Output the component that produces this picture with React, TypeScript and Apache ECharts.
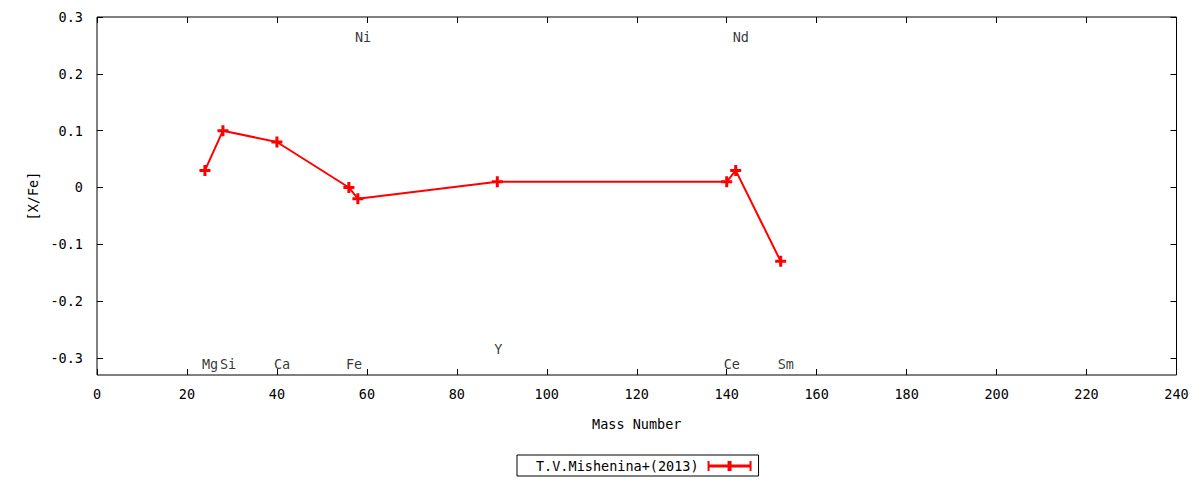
import { useEffect, useRef } from 'react'
import * as echarts from 'echarts'

const MASS    = [24, 28, 40, 56, 58, 89, 140, 142, 152]
const XFE     = [0.03, 0.10, 0.08, 0.00, -0.02, 0.01, 0.01, 0.03, -0.13]
const ELEMENTS = ['Mg', 'Si', 'Ca', 'Fe', 'Ni', 'Y', 'Ce', 'Nd', 'Sm']
// where each element name is written (y in [X/Fe] units)
const LABEL_Y = [-0.31, -0.31, -0.31, -0.31, 0.265, -0.285, -0.31, 0.265, -0.31]
const Y_TICKS = [-0.3, -0.2, -0.1, 0, 0.1, 0.2, 0.3]
const SERIES_NAME = 'T.V.Mishenina+(2013)'

const FONT = '"DejaVu Sans Mono", monospace'
const RED  = '#ff0000'
const PLUS = 'path://M4,0H7V4H11V7H7V11H4V7H0V4H4Z'
const KEY  = 'path://M0,0H2V3.5H20V0H24V3.5H42V0H44V10H42V6.5H24V10H20V6.5H2V10H0Z'

export default function App() {
  const ref = useRef<HTMLDivElement>(null)

  useEffect(() => {
    document.body.style.margin = '0'
    if (!ref.current) return
    const chart = echarts.init(ref.current, undefined, { renderer: 'svg' })

    const txt = { color: '#000', fontFamily: FONT, fontSize: 13.5 }
    const tick = { inside: true, length: 6, lineStyle: { color: '#000' } }

    const xBase = {
      type: 'value', min: 0, max: 240, interval: 20,
      axisLine: { show: false, onZero: false }, splitLine: { show: false },
      axisTick: tick,
    }
    const yBase = {
      type: 'value', min: -0.33, max: 0.3,
      axisLine: { show: false, onZero: false }, splitLine: { show: false },
      axisTick: { ...tick, customValues: Y_TICKS },
    }

    chart.setOption({
      animation: false,
      backgroundColor: '#fff',
      grid: { left: 97, right: 23.5, top: 17, bottom: 105, show: true, borderColor: '#000', borderWidth: 1 },
      xAxis: [
        {
          ...xBase, position: 'bottom',
          axisLabel: { ...txt, margin: 12 },
          name: 'Mass Number', nameLocation: 'middle', nameGap: 42, nameTextStyle: txt,
        },
        { ...xBase, position: 'top', axisLabel: { show: false } },
      ],
      yAxis: [
        {
          ...yBase, position: 'left',
          axisLabel: {
            ...txt, margin: 14, customValues: Y_TICKS,
            formatter: (v: number) => String(Number(v.toFixed(1))),
          },
          name: '[X/Fe]', nameLocation: 'middle', nameGap: 57, nameTextStyle: txt,
        },
        { ...yBase, position: 'right', axisLabel: { show: false } },
      ],
      legend: {
        left: 517, top: 455,
        align: 'right',
        orient: 'horizontal',
        borderColor: '#000', borderWidth: 1, borderRadius: 0,
        padding: [4, 7, 3, 19],
        itemWidth: 44, itemHeight: 10,
        textStyle: { ...txt, padding: [0, 4, 0, 0] },
        data: [{ name: SERIES_NAME, icon: KEY, itemStyle: { color: RED } }],
      },
      series: [
        {
          name: SERIES_NAME,
          type: 'line',
          data: MASS.map((m, i) => [m, XFE[i]]),
          symbol: PLUS,
          symbolSize: 11,
          lineStyle: { color: RED, width: 2 },
          itemStyle: { color: RED },
          z: 3,
        },
        {
          name: 'labels',
          type: 'scatter',
          data: MASS.map((m, i) => ({ value: [m, LABEL_Y[i]], name: ELEMENTS[i] })),
          symbolSize: 0,
          silent: true,
          label: {
            show: true, ...txt,
            position: [-3, 0], align: 'left', verticalAlign: 'middle',
            formatter: (p: any) => p.name,
          },
        },
      ],
    })

    return () => chart.dispose()
  }, [])

  return <div ref={ref} style={{ width: 1200, height: 480 }} />
}
